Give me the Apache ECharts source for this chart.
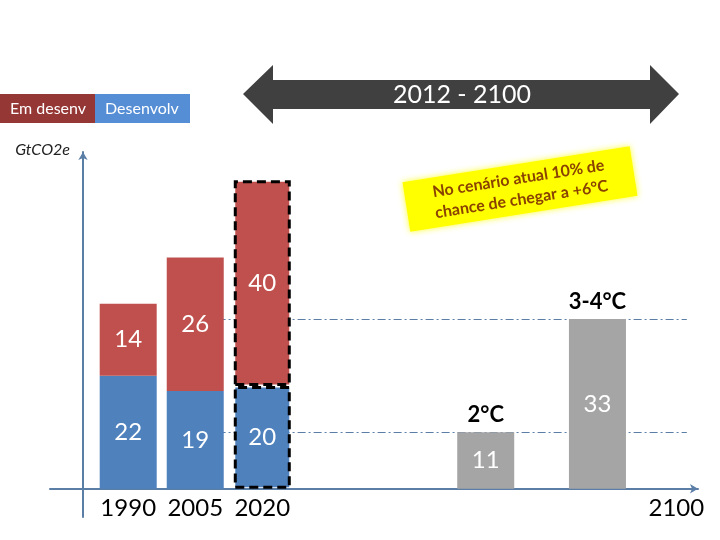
<!DOCTYPE html>
<html>
<head>
<meta charset="utf-8">
<title>Emissões GtCO2e</title>
<script src="https://cdn.jsdelivr.net/npm/echarts@6/dist/echarts.min.js"></script>
<style>
  html, body { margin: 0; padding: 0; background: #fff; }
  #chart { width: 720px; height: 540px; }
</style>
</head>
<body>
<div id="chart"></div>
<script>
const years = ['1990', '2005', '2020'];
const developed = [22, 19, 20];   // Desenvolv (azul)
const developing = [14, 26, 40];  // Em desenv (vermelho)
const scenarioNames = ['2°C', '3-4°C'];
const scenarioValues = [11, 33];
const endLabel = '2100';
const projectedYear = '2020';

// posicao de cada barra no eixo (slots vazios entre elas)
const slotCount = 29;
const yearSlots = [3, 6, 9];
const scenarioSlots = [19, 24];

const FONT = 'Lato, "Open Sans", sans-serif';

const categories = Array(slotCount).fill('');
years.forEach((y, i) => { categories[yearSlots[i]] = y; });
categories[slotCount - 1] = { value: endLabel, textStyle: { padding: [0, 21, 0, 0] } };

function slotData(slots, values, styleFor) {
  const out = Array(slotCount).fill(null);
  slots.forEach((s, i) => {
    const extra = styleFor ? styleFor(i) : null;
    out[s] = extra ? { value: values[i], itemStyle: extra } : values[i];
  });
  return out;
}

const dashed = i => years[i] === projectedYear
  ? { borderColor: '#000', borderWidth: 3, borderType: [9, 5] }
  : null;

const barLabel = {
  show: true,
  position: 'inside',
  color: '#fff',
  fontSize: 24,
  fontFamily: FONT
};

const chart = echarts.init(document.getElementById('chart'));

chart.setOption({
  backgroundColor: '#fff',
  textStyle: { fontFamily: FONT },
  legend: {
    left: -5,
    top: 94,
    padding: 0,
    itemWidth: 0,
    itemHeight: 0,
    itemGap: -5,
    selectedMode: false,
    data: [
      { name: 'Em desenv', textStyle: { backgroundColor: '#953735' } },
      { name: 'Desenvolv', textStyle: { backgroundColor: '#558ed5' } }
    ],
    textStyle: {
      color: '#fff',
      fontSize: 16,
      lineHeight: 17,
      width: 75,
      align: 'center',
      padding: [6, 10, 6, 10]
    }
  },
  grid: { left: 50, right: 22, top: 152, bottom: 23, outerBoundsMode: 'none' },
  xAxis: {
    type: 'category',
    data: categories,
    axisLine: {
      onZero: true,
      symbol: ['none', 'arrow'],
      symbolSize: [7, 8],
      lineStyle: { color: '#5a7ea6', width: 2 }
    },
    axisTick: { show: false },
    // labels stay at the grid edge, pull them up to the zero line
    axisLabel: { interval: 0, color: '#000', fontSize: 24, margin: -21, fontFamily: FONT },
    splitLine: { show: false }
  },
  yAxis: {
    type: 'value',
    min: -5.5,
    max: 65.5,
    offset: -33,
    name: 'GtCO2e',
    nameLocation: 'end',
    nameGap: 2,
    nameTextStyle: {
      color: '#222',
      fontStyle: 'italic',
      fontSize: 16,
      align: 'right',
      verticalAlign: 'middle',
      padding: [0, 13, 0, 0]
    },
    axisLine: {
      show: true,
      symbol: ['none', 'arrow'],
      symbolSize: [7, 8],
      lineStyle: { color: '#5a7ea6', width: 2 }
    },
    axisTick: { show: false },
    axisLabel: { show: false },
    splitLine: { show: false }
  },
  series: [
    {
      name: 'Desenvolv',
      type: 'bar',
      stack: 'total',
      barWidth: 57,
      barGap: '-100%',
      itemStyle: { color: '#4f81bd' },
      label: barLabel,
      data: slotData(yearSlots, developed, dashed)
    },
    {
      name: 'Em desenv',
      type: 'bar',
      stack: 'total',
      barWidth: 57,
      barGap: '-100%',
      itemStyle: { color: '#c0504d' },
      label: barLabel,
      data: slotData(yearSlots, developing, dashed)
    },
    {
      name: 'Cenários 2100',
      type: 'bar',
      barWidth: 57,
      barGap: '-100%',
      itemStyle: { color: '#a5a5a5' },
      label: barLabel,
      data: slotData(scenarioSlots, scenarioValues),
      markPoint: {
        symbol: 'rect',
        symbolSize: 0,
        silent: true,
        label: {
          show: true,
          position: 'top',
          distance: 6,
          formatter: '{b}',
          color: '#000',
          fontWeight: 'bold',
          fontSize: 22,
          fontFamily: FONT
        },
        data: scenarioNames.map((n, i) => ({ name: n, coord: [scenarioSlots[i], scenarioValues[i]] }))
      },
      markLine: {
        z: 1,
        silent: true,
        symbol: ['none', 'none'],
        label: { show: false },
        lineStyle: { color: '#5a7ea6', width: 1, type: [8, 3, 2, 3] },
        data: scenarioValues.map(v => [
          { coord: [yearSlots[1] + 1, v] },
          { coord: [slotCount - 1, v] }
        ])
      }
    }
  ],
  graphic: [
    {
      type: 'polygon',
      shape: {
        points: [[243, 94], [273, 65], [273, 80], [650, 80], [650, 65], [679, 94],
                 [650, 124], [650, 109], [273, 109], [273, 124]]
      },
      style: { fill: '#404040' }
    },
    {
      type: 'text',
      x: 462, y: 95,
      style: {
        text: '2012 - 2100',
        fill: '#fff',
        font: '25px ' + FONT,
        textAlign: 'center',
        textVerticalAlign: 'middle'
      }
    },
    {
      type: 'group',
      x: 520, y: 189,
      rotation: 9 * Math.PI / 180,
      children: [
        {
          type: 'rect',
          shape: { x: -115, y: -25, width: 230, height: 50 },
          style: { fill: '#ffff00', shadowBlur: 6, shadowColor: 'rgba(255,255,0,0.8)' }
        },
        {
          type: 'text',
          x: 0, y: 0,
          style: {
            text: 'No cenário atual 10% de\nchance de chegar a +6°C',
            fill: '#8a4200',
            font: 'bold 16px ' + FONT,
            lineHeight: 21,
            textAlign: 'center',
            textVerticalAlign: 'middle'
          }
        }
      ]
    }
  ]
});
</script>
</body>
</html>
